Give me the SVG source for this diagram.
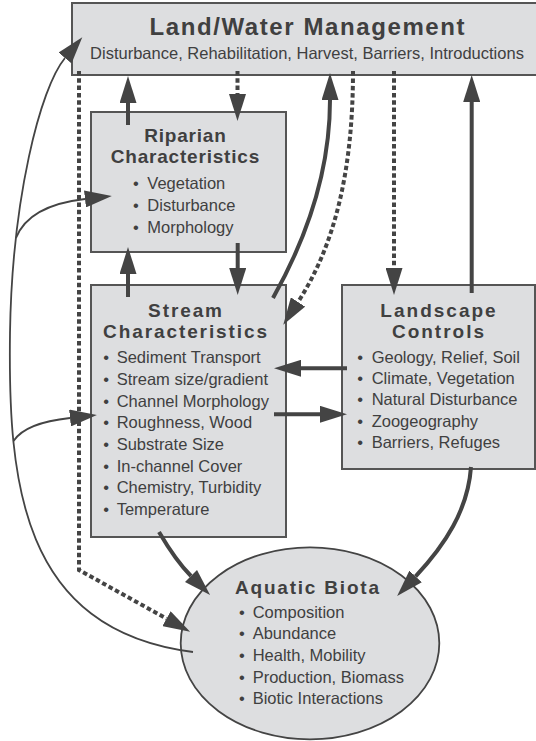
<svg xmlns="http://www.w3.org/2000/svg" width="536" height="741" viewBox="0 0 536 741">
<style>
.box{fill:#dddee0;stroke:#555;stroke-width:2}
.ell{fill:#dddee0;stroke:#444;stroke-width:1.8}
.t{font-family:"Liberation Sans",Arial,sans-serif;fill:#404040}
.h{font-weight:bold;font-size:19px;text-anchor:middle}
.i{font-size:16.5px}
.thick{fill:none;stroke:#444;stroke-width:4}
.dash{fill:none;stroke:#444;stroke-width:4;stroke-dasharray:4.5 2.8}
.thin{fill:none;stroke:#444;stroke-width:1.8}
</style>
<defs>
<marker id="ah" markerUnits="userSpaceOnUse" markerWidth="27" markerHeight="17" viewBox="0 0 27 17" refX="0" refY="8.5" orient="auto">
<path d="M0,0 L27,8.5 L0,17 z" fill="#444"/>
</marker>
</defs>
<rect width="536" height="741" fill="#fff"/>

<g id="management">
<rect class="box" x="72" y="3" width="480" height="72"/>
<text class="t" x="307.8" y="35" style="font-weight:bold;font-size:24px;letter-spacing:1.6px;text-anchor:middle">Land/Water Management</text>
<text class="t" x="307" y="59" style="font-size:16.5px;text-anchor:middle">Disturbance, Rehabilitation, Harvest, Barriers, Introductions</text>
</g>

<g id="riparian">
<rect class="box" x="91" y="112" width="195" height="140"/>
<text class="t h" x="185.4" y="142" style="letter-spacing:0.8px">Riparian</text>
<text class="t h" x="185.4" y="163" style="letter-spacing:0.8px">Characteristics</text>
<text class="t i"><tspan x="133" y="189">•</tspan><tspan x="147.3">Vegetation</tspan></text>
<text class="t i"><tspan x="133" y="211">•</tspan><tspan x="147.3">Disturbance</tspan></text>
<text class="t i"><tspan x="133" y="233">•</tspan><tspan x="147.3">Morphology</tspan></text>
</g>

<g id="stream">
<rect class="box" x="91" y="285" width="195" height="252"/>
<text class="t h" x="186" y="316.7" style="letter-spacing:1.9px">Stream</text>
<text class="t h" x="186" y="338" style="letter-spacing:1.9px">Characteristics</text>
<text class="t i"><tspan x="103.3" y="363.3">•</tspan><tspan x="116.7">Sediment Transport</tspan></text>
<text class="t i"><tspan x="103.3" y="385">•</tspan><tspan x="116.7">Stream size/gradient</tspan></text>
<text class="t i"><tspan x="103.3" y="406.7">•</tspan><tspan x="116.7">Channel Morphology</tspan></text>
<text class="t i"><tspan x="103.3" y="428.3">•</tspan><tspan x="116.7">Roughness, Wood</tspan></text>
<text class="t i"><tspan x="103.3" y="450">•</tspan><tspan x="116.7">Substrate Size</tspan></text>
<text class="t i"><tspan x="103.3" y="471.7">•</tspan><tspan x="116.7">In-channel Cover</tspan></text>
<text class="t i"><tspan x="103.3" y="493.3">•</tspan><tspan x="116.7">Chemistry, Turbidity</tspan></text>
<text class="t i"><tspan x="103.3" y="515">•</tspan><tspan x="116.7">Temperature</tspan></text>
</g>

<g id="landscape">
<rect class="box" x="342" y="285" width="193" height="184"/>
<text class="t h" x="439" y="316.7" style="letter-spacing:2px">Landscape</text>
<text class="t h" x="439" y="338.3" style="letter-spacing:2px">Controls</text>
<text class="t i"><tspan x="357.3" y="362.7">•</tspan><tspan x="371.7">Geology, Relief, Soil</tspan></text>
<text class="t i"><tspan x="357.3" y="384">•</tspan><tspan x="371.7">Climate, Vegetation</tspan></text>
<text class="t i"><tspan x="357.3" y="405.4">•</tspan><tspan x="371.7">Natural Disturbance</tspan></text>
<text class="t i"><tspan x="357.3" y="426.8">•</tspan><tspan x="371.7">Zoogeography</tspan></text>
<text class="t i"><tspan x="357.3" y="448.3">•</tspan><tspan x="371.7">Barriers, Refuges</tspan></text>
</g>

<g id="biota">
<ellipse class="ell" cx="310" cy="643.3" rx="129.3" ry="96"/>
<text class="t h" x="307.9" y="594" style="letter-spacing:1.8px">Aquatic Biota</text>
<text class="t i"><tspan x="239" y="617.7">•</tspan><tspan x="252.7">Composition</tspan></text>
<text class="t i"><tspan x="239" y="639.3">•</tspan><tspan x="252.7">Abundance</tspan></text>
<text class="t i"><tspan x="239" y="660.8">•</tspan><tspan x="252.7">Health, Mobility</tspan></text>
<text class="t i"><tspan x="239" y="682.7">•</tspan><tspan x="252.7">Production, Biomass</tspan></text>
<text class="t i"><tspan x="239" y="704.3">•</tspan><tspan x="252.7">Biotic Interactions</tspan></text>
</g>

<g id="connectors">
<path class="thick" d="M128,125 V103" marker-end="url(#ah)"/>
<path class="dash" d="M237.5,71 V94" marker-end="url(#ah)"/>
<path class="thick" d="M128,297 V274" marker-end="url(#ah)"/>
<path class="thick" d="M237.7,243 V268" marker-end="url(#ah)"/>
<path class="thick" d="M273,298 C300,250 330,180 330,100" marker-end="url(#ah)"/>
<path class="dash" d="M353,71 C353,170 335,245 298,302" marker-end="url(#ah)"/>
<path class="dash" d="M394,71 V268" marker-end="url(#ah)"/>
<path class="thick" d="M471.7,293 V102" marker-end="url(#ah)"/>
<path class="thick" d="M347,368.3 H301" marker-end="url(#ah)"/>
<path class="thick" d="M274,414.3 H320" marker-end="url(#ah)"/>
<path class="thick" d="M159,532 Q176,561 191,576" marker-end="url(#ah)"/>
<path class="thick" d="M471,467 C468,510 445,545 415.6,576.4" marker-end="url(#ah)"/>
<path class="dash" d="M79,71 V570 L166.5,618.6" marker-end="url(#ah)"/>
<path class="thin" d="M193,652 C20,630 8,480 10,333 C12,200 40,88 65,58" marker-end="url(#ah)"/>
<path class="thin" d="M16,238 C25,215 50,203 85,199" marker-end="url(#ah)"/>
<path class="thin" d="M13.5,441 C22,428 42,421 70,418" marker-end="url(#ah)"/>
</g>
</svg>
